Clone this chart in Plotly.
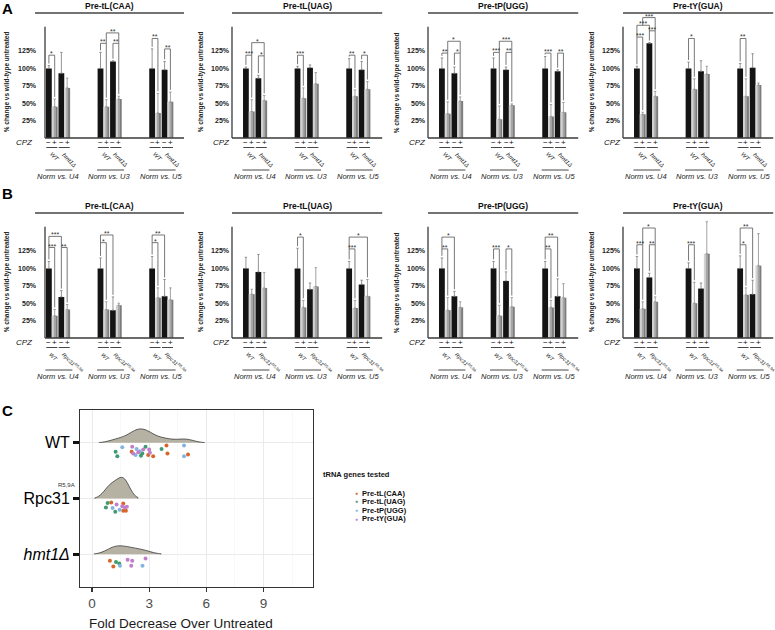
import plotly.graph_objects as go

W, H = 775, 630
FONT = "Liberation Sans, Arial, Helvetica, sans-serif"

# ---------------- data ----------------
genes = ["Pre-tL(CAA)", "Pre-tL(UAG)", "Pre-tP(UGG)", "Pre-tY(GUA)"]
norms = ["Norm vs. U4", "Norm vs. U3", "Norm vs. U5"]
cpz_signs = ["−", "+", "−", "+"]
y_ticks = [25, 50, 75, 100, 125]
y_ticktext = ["25%", "50%", "75%", "100%", "125%"]
y_title = "% change vs wild-type untreated"
wt_label = "<i>WT</i>"
mutant_labels = ["<i>hmt1Δ</i>", "<i>Rpc31<sup>R5,9A</sup></i>"]
panel_letters = ["A", "B"]

# Panel A (hmt1Δ): per norm group -> [WT -CPZ, WT +CPZ, mut -CPZ, mut +CPZ]
a_caa = [[100, 45, 93, 72], [100, 45, 110, 56], [100, 36, 98, 52]]
a_caa_err = [[4, 11, 30, 14], [23, 10, 1, 4], [28, 28, 12, 14]]
a_caa_sig = [(0, 0, 1, 119, "*"), (1, 0, 1, 136, "**"), (1, 2, 3, 136, "**"),
             (1, 1, 3, 151, "**"), (2, 0, 1, 143, "**"), (2, 2, 3, 128, "**")]

a_uag = [[100, 38, 86, 54], [100, 57, 101, 78], [100, 60, 98, 70]]
a_uag_err = [[2, 17, 4, 7], [3, 15, 4, 16], [14, 9, 12, 11]]
a_uag_sig = [(0, 0, 1, 119, "***"), (0, 2, 3, 118, "*"), (0, 1, 3, 137, "*"),
             (1, 0, 1, 119, "***"), (2, 0, 1, 119, "**"), (2, 2, 3, 119, "*")]

a_ugg = [[100, 35, 93, 53], [100, 27, 98, 47], [100, 31, 96, 37]]
a_ugg_err = [[15, 17, 9, 6], [15, 19, 4, 2], [17, 17, 2, 14]]
a_ugg_sig = [(0, 0, 1, 122, "**"), (0, 2, 3, 122, "*"), (0, 1, 3, 139, "*"),
             (1, 0, 1, 123, "***"), (1, 2, 3, 123, "**"), (1, 1, 3, 139, "***"),
             (2, 0, 1, 122, "***"), (2, 2, 3, 122, "**")]

a_gua = [[100, 34, 136, 60], [100, 70, 96, 92], [100, 60, 101, 76]]
a_gua_err = [[3, 3, 1, 7], [9, 15, 15, 11], [7, 25, 20, 3]]
a_gua_sig = [(0, 0, 1, 145, "***"), (0, 2, 3, 154, "***"), (0, 0, 2, 162, "***"),
             (0, 1, 3, 173, "***"), (1, 0, 1, 143, "*"), (2, 0, 1, 143, "**")]

# Panel B (Rpc31 R5,9A)
b_caa = [[100, 32, 59, 41], [100, 41, 40, 47], [100, 58, 60, 55]]
b_caa_err = [[10, 9, 9, 7], [15, 11, 19, 3], [17, 14, 24, 17]]
b_caa_sig = [(0, 0, 1, 130, "***"), (0, 2, 3, 130, "**"), (0, 0, 2, 146, "***"),
             (1, 0, 1, 137, "*"), (1, 0, 2, 148, "**"),
             (2, 0, 1, 137, "*"), (2, 0, 2, 148, "**")]

b_uag = [[100, 63, 95, 72], [100, 44, 70, 74], [100, 43, 77, 60]]
b_uag_err = [[16, 7, 25, 22], [29, 10, 9, 27], [10, 11, 6, 24]]
b_uag_sig = [(1, 0, 1, 145, "*"), (2, 0, 1, 128, "***"), (2, 0, 3, 145, "*")]

b_ugg = [[100, 40, 60, 44], [100, 32, 82, 45], [100, 44, 60, 58]]
b_ugg_err = [[15, 18, 7, 8], [10, 15, 13, 13], [10, 10, 25, 20]]
b_ugg_sig = [(0, 0, 1, 128, "**"), (0, 0, 2, 145, "*"), (1, 0, 1, 128, "***"),
             (1, 2, 3, 128, "*"), (2, 0, 1, 128, "**"), (2, 0, 2, 145, "**")]

b_gua = [[100, 42, 87, 52], [100, 50, 71, 121], [100, 62, 63, 104]]
b_gua_err = [[17, 10, 6, 7], [8, 30, 8, 46], [18, 10, 20, 46]]
b_gua_sig = [(0, 0, 1, 134, "***"), (0, 2, 3, 134, "**"), (0, 1, 3, 158, "*"),
             (1, 0, 1, 134, "***"), (2, 0, 1, 134, "*"), (2, 0, 2, 158, "**")]

# Panel C: fold decrease points (x), vertical jitter below ridge (dy), gene index
c_strains = ["WT", "Rpc31", "<i>hmt1Δ</i>"]
c_rpc_sup = "R5,9A"
c_genes = ["Pre-tL(CAA)", "Pre-tL(UAG)", "Pre-tP(UGG)", "Pre-tY(GUA)"]
c_wt_x = [1.24, 1.33, 1.59, 2.11, 2.08, 2.16, 2.29, 2.34, 2.43, 2.51, 2.57, 2.64,
          2.69, 2.81, 3.00, 3.04, 2.95, 3.21, 3.65, 3.91, 3.96, 4.83, 4.83, 5.04]
c_wt_dy = [-0.16, -0.24, -0.08, -0.07, -0.16, -0.19, -0.22, -0.11, -0.17, -0.15, -0.23, -0.19,
           -0.12, -0.07, -0.12, -0.18, -0.22, -0.24, -0.11, -0.05, -0.19, -0.05, -0.24, -0.21]
c_wt_gene = [1, 1, 2, 3, 0, 3, 2, 2, 3, 2, 1, 1, 3, 1, 3, 3, 0, 0, 1, 0, 0, 2, 2, 0]
c_rpc_x = [0.82, 1.01, 0.73, 1.08, 1.29, 1.22, 1.59, 1.64, 1.73, 1.83, 1.64, 1.78, 1.45]
c_rpc_dy = [-0.08, -0.07, -0.16, -0.17, -0.11, -0.24, -0.14, -0.09, -0.16, -0.15, -0.22, -0.22, -0.20]
c_rpc_gene = [1, 0, 1, 2, 3, 1, 3, 0, 3, 3, 0, 0, 2]
c_hmt_x = [0.94, 1.12, 1.26, 1.43, 1.47, 1.87, 2.11, 2.06, 2.65, 2.81]
c_hmt_dy = [-0.12, -0.22, -0.14, -0.17, -0.21, -0.10, -0.12, -0.21, -0.21, -0.08]
c_hmt_gene = [0, 0, 1, 1, 2, 3, 3, 3, 2, 3]
c_xticks = [0, 3, 6, 9]

# ---------------- layout helpers ----------------
def fx(px):
    return px / W


def fy(py):
    return 1 - py / H


def note(text, x, y, size, xanchor="center", yanchor="middle", xref="paper", yref="paper", **kw):
    font = dict(size=size, color=kw.pop("color", "#111"), family=FONT)
    if "weight" in kw:
        font["weight"] = kw.pop("weight")
    return dict(text=text, x=x, y=y, xref=xref, yref=yref, xanchor=xanchor, yanchor=yanchor,
                showarrow=False, font=font, borderpad=0, **kw)


U = 5.8                 # px per bar unit
PCT = 17.4 / 25         # px per percent
Y_MAX = 185
AXIS_MAX = 160
GROUP_STEP = 8.9
BAR_OFF = [0, 1, 2.15, 3.15]
axis_px = [45, 232, 428, 623]
x_lo = [-0.67, -2.4, -2.4, -2.4]
x_hi = [23.3, 23.5, 23.5, 23.5]
base_px = [138, 338]
BLACK = "#141414"
GRAY_STRIPS = ["#d2d2d2", "#a6a6a6", "#7c7c7c"]   # light -> dark shading of the +CPZ bars
LINE = "#3a3a3a"


def bpos(g, b):
    return g * GROUP_STEP + BAR_OFF[b]


fig = go.Figure()
layout = {}
shapes = []
annotations = []

panel_data = [
    ([a_caa, a_uag, a_ugg, a_gua], [a_caa_err, a_uag_err, a_ugg_err, a_gua_err],
     [a_caa_sig, a_uag_sig, a_ugg_sig, a_gua_sig]),
    ([b_caa, b_uag, b_ugg, b_gua], [b_caa_err, b_uag_err, b_ugg_err, b_gua_err],
     [b_caa_sig, b_uag_sig, b_ugg_sig, b_gua_sig]),
]

for p in range(2):
    base = base_px[p]
    vals_all, errs_all, sigs_all = panel_data[p]
    annotations.append(note("<b>" + panel_letters[p] + "</b>", fx(7), fy(base - 129 if p == 0 else base - 145), 15,
                            color="black"))
    for k in range(4):
        n = p * 4 + k + 1
        sfx = "" if n == 1 else str(n)
        xa, ya = "x" + sfx, "y" + sfx
        vals, errs, sigs = vals_all[k], errs_all[k], sigs_all[k]
        left = axis_px[k]
        right = left + (x_hi[k] - x_lo[k]) * U
        layout["xaxis" + sfx] = dict(domain=[fx(left), fx(right)], range=[x_lo[k], x_hi[k]],
                                     visible=False, anchor=ya, fixedrange=True)
        layout["yaxis" + sfx] = dict(domain=[fy(base), fy(base - Y_MAX * PCT)], range=[0, Y_MAX],
                                     anchor=xa, tickvals=y_ticks, ticktext=y_ticktext,
                                     showgrid=False, zeroline=False, showline=False, ticks="",
                                     tickfont=dict(size=7, color="#222", family=FONT, weight="bold"),
                                     ticklabelstandoff=8 if k == 0 else 2, fixedrange=True)
        # untreated (black) bars
        xs, ys, es = [], [], []
        for g in range(3):
            for b in (0, 2):
                xs.append(bpos(g, b))
                ys.append(vals[g][b])
                es.append(errs[g][b])
        fig.add_trace(go.Bar(x=xs, y=ys, width=1.0, xaxis=xa, yaxis=ya,
                             marker=dict(color=BLACK, line=dict(width=0)),
                             error_y=dict(type="data", symmetric=False, array=es, arrayminus=[0] * len(es),
                                          color="#7a7a7a", thickness=0.8, width=1.2),
                             showlegend=False, hoverinfo="skip"))
        # CPZ-treated (gray, shaded) bars drawn as three shading strips
        xs, ys, es = [], [], []
        for g in range(3):
            for b in (1, 3):
                xs.append(bpos(g, b))
                ys.append(vals[g][b])
                es.append(errs[g][b])
        for si, scol in enumerate(GRAY_STRIPS):
            off = (si - 1) / 3
            err = dict(type="data", symmetric=False, array=es, arrayminus=[0] * len(es),
                       color="#8a8a8a", thickness=0.8, width=1.2) if si == 1 else None
            fig.add_trace(go.Bar(x=[x + off for x in xs], y=ys, width=1 / 3 + 0.02, xaxis=xa, yaxis=ya,
                                 marker=dict(color=scol, line=dict(width=0)), error_y=err,
                                 showlegend=False, hoverinfo="skip"))
        # axis lines
        shapes.append(dict(type="line", xref=xa + " domain", yref=ya, x0=0, x1=0, y0=0, y1=AXIS_MAX,
                           line=dict(color=LINE, width=1.3)))
        shapes.append(dict(type="line", xref=xa + " domain", yref=ya + " domain", x0=0, x1=1, y0=0, y1=0,
                           line=dict(color=LINE, width=1.3)))
        # title and title line
        tl = left - 10 if k == 0 else left
        shapes.append(dict(type="line", xref="paper", yref="paper", x0=fx(tl), x1=fx(right),
                           y0=fy(base - 125), y1=fy(base - 125), line=dict(color="#444", width=1.4)))
        annotations.append(note("<b>" + genes[k] + "</b>", fx((tl + right) / 2), fy(base - 132), 8.5))
        # y title
        ytx = left - (38 if k == 0 else 31)
        annotations.append(note(y_title, fx(ytx), fy(base - AXIS_MAX * PCT / 2), 6.5, textangle=-90,
                                color="#222", weight="bold"))
        # CPZ
        first_edge = left + (-0.5 - x_lo[k]) * U
        annotations.append(note("<i>CPZ</i>", fx(first_edge - 12), fy(base + 5), 8, xanchor="right"))
        # significance brackets
        for (g, i, j, lev, stars) in sigs:
            bottoms = []
            for bb in (i, j):
                bot = vals[g][bb] + errs[g][bb] + 3
                for (g2, i2, j2, l2, _) in sigs:
                    if g2 == g and l2 < lev and i2 <= bb <= j2:
                        bot = max(bot, l2)
                bottoms.append(bot)
            xi, xj = bpos(g, i), bpos(g, j)
            shapes.append(dict(type="path", xref=xa, yref=ya,
                               path=f"M {xi},{bottoms[0]} L {xi},{lev} L {xj},{lev} L {xj},{bottoms[1]}",
                               line=dict(color="#555", width=0.8)))
            annotations.append(note(stars, (xi + xj) / 2, lev, 7, yanchor="bottom", xref=xa, yref=ya,
                                    yshift=-3, color="#333"))
        # labels under axis
        for g in range(3):
            for b in range(4):
                annotations.append(note(cpz_signs[b], bpos(g, b), fy(base + 5), 8, xref=xa))
            for m in range(2):
                shapes.append(dict(type="line", xref=xa, yref="paper",
                                   x0=bpos(g, 2 * m) - 0.45, x1=bpos(g, 2 * m + 1) + 0.45,
                                   y0=fy(base + 9.5), y1=fy(base + 9.5), line=dict(color="#333", width=0.9)))
                lab = wt_label if m == 0 else mutant_labels[p]
                annotations.append(note(lab, bpos(g, 2 * m) - 0.3, fy(base + 12), 6 if p == 0 else 5.5,
                                        xanchor="left", yanchor="top", xref=xa, textangle=45, color="#222"))
            shapes.append(dict(type="line", xref=xa, yref="paper", x0=bpos(g, 0) - 0.6, x1=bpos(g, 3) + 0.9,
                               y0=fy(base + 32), y1=fy(base + 32), line=dict(color="#333", width=0.9)))
            annotations.append(note("<i>" + norms[g] + "</i>", (bpos(g, 0) + bpos(g, 3)) / 2, fy(base + 38),
                                    7.5, xref=xa, color="#222"))

# ---------------- Panel C ----------------
C_ROWS = [3, 2, 1]
c_colors = ["#d6662a", "#3f9b72", "#86b4e0", "#c27fc9"]
c_sets = [(c_wt_x, c_wt_dy, c_wt_gene), (c_rpc_x, c_rpc_dy, c_rpc_gene), (c_hmt_x, c_hmt_dy, c_hmt_gene)]
ridge_width = [0.50, 0.76, 0.30]
ridge_bw = [0.43, 0.29, 0.41]

for r, (xs, dys, gs) in enumerate(c_sets):
    fig.add_trace(go.Violin(x=xs, y0=C_ROWS[r], orientation="h", side="positive", width=ridge_width[r],
                            bandwidth=ridge_bw[r], points=False, spanmode="soft", scalemode="width",
                            fillcolor="#b5b2a4", line=dict(color="#3a3a3a", width=0.8),
                            box=dict(visible=False), meanline=dict(visible=False),
                            xaxis="x9", yaxis="y9", showlegend=False, hoverinfo="skip"))

for gi in range(4):
    px_, py_ = [], []
    for r, (xs, dys, gs) in enumerate(c_sets):
        for x, dy, g in zip(xs, dys, gs):
            if g == gi:
                px_.append(x)
                py_.append(C_ROWS[r] + dy)
    fig.add_trace(go.Scatter(x=px_, y=py_, mode="markers", xaxis="x9", yaxis="y9",
                             marker=dict(color=c_colors[gi], size=4), name=c_genes[gi],
                             showlegend=False, hoverinfo="skip"))

layout["xaxis9"] = dict(domain=[fx(80), fx(313)], range=[-0.63, 11.6], anchor="y9", tickvals=c_xticks,
                        tickfont=dict(size=13.5, color="#4d4d4d", family=FONT), ticks="outside", ticklen=4,
                        tickwidth=1.3, tickcolor="#333", showline=True, mirror=True, linecolor="#333",
                        linewidth=1, showgrid=True, gridcolor="#e6e6e6", gridwidth=0.8, zeroline=False,
                        minor=dict(dtick=1.5, tick0=0, showgrid=True, gridcolor="#f3f3f3", gridwidth=0.6),
                        fixedrange=True)
layout["yaxis9"] = dict(domain=[fy(587), fy(410)], range=[0.41, 3.59], anchor="x9", type="linear",
                        tickvals=C_ROWS, ticktext=c_strains,
                        tickfont=dict(size=16, color="black", family=FONT), ticks="outside", ticklen=6,
                        tickwidth=2.8, tickcolor="#111", showline=True, mirror=True, linecolor="#333",
                        linewidth=1, showgrid=True, gridcolor="#e6e6e6", gridwidth=0.8, zeroline=False,
                        fixedrange=True)

annotations.append(note(c_rpc_sup, fx(66), fy(485), 6, color="#333"))
annotations.append(note("<b>C</b>", fx(7), fy(410), 15, color="black"))
annotations.append(note("Fold Decrease Over Untreated", fx(181), fy(623), 13.5, color="#1a1a1a"))
# legend (as annotations)
annotations.append(note("<b>tRNA genes tested</b>", fx(322), fy(474), 7.5, xanchor="left"))
for gi in range(4):
    yy = 493 + gi * 8.5
    annotations.append(note("●", fx(356), fy(yy), 5, color=c_colors[gi]))
    annotations.append(note("<b>" + c_genes[gi] + "</b>", fx(361), fy(yy), 7.5, xanchor="left"))

fig.update_layout(width=W, height=H, margin=dict(l=0, r=0, t=0, b=0), paper_bgcolor="white",
                  plot_bgcolor="white", barmode="overlay", showlegend=False,
                  font=dict(family=FONT), shapes=shapes, annotations=annotations, **layout)

fig.write_html("out.html", config={"displayModeBar": False, "staticPlot": True},
               post_script="document.body.style.margin='0';document.body.style.overflow='hidden';")
